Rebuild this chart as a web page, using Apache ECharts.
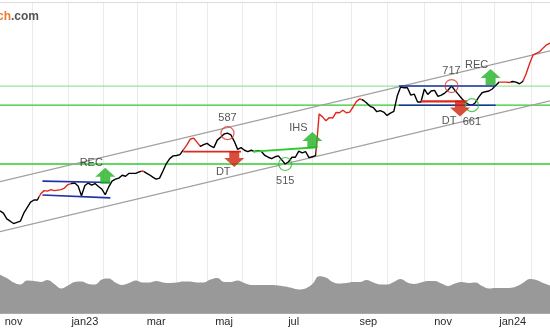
<!DOCTYPE html>
<html>
<head>
<meta charset="utf-8">
<script src="https://cdn.jsdelivr.net/npm/echarts@6.0.0/dist/echarts.min.js"></script>
<style>
  html, body { margin: 0; padding: 0; background: #fff; }
  #chart { width: 550px; height: 330px; }
</style>
</head>
<body>
<div id="chart"></div>
<script>
// ---- trading calendar (Stockholm exchange) ----
const calendarStart = '2022-11-01';
const firstShownDay = '2022-11-04';
const lastShownDay = '2024-02-16';
const holidays = ['2022-12-26', '2023-01-06', '2023-04-07', '2023-04-10', '2023-05-01', '2023-05-18',
  '2023-06-06', '2023-06-23', '2023-12-25', '2023-12-26', '2024-01-01'];

// ---- month tick labels (every second month) ----
const labelMonths = ['2022-11', '2023-01', '2023-03', '2023-05', '2023-07', '2023-09', '2023-11', '2024-01'];
const labelTexts = ['nov', 'jan23', 'mar', 'maj', 'jul', 'sep', 'nov', 'jan24'];

// ---- closing price, one value every second trading day from firstShownDay ----
const closes = [
  422, 418, 408, 404, 400, 402, 404, 418, 428, 438,
  442, 442, 454, 460, 459, 462, 460, 461, 462, 465,
  472, 474, 475, 469, 450, 470, 475, 471, 474, 468,
  463, 452, 467, 479, 483, 485, 491, 489, 495, 495,
  495, 498, 500, 496, 492, 487, 483, 485, 500, 516,
  527, 533, 534, 536, 547, 558, 572, 575, 565, 555,
  559, 562, 556, 552, 570, 577, 585, 587, 583, 567,
  548, 552, 546, 543, 546, 543, 545, 543, 534, 530,
  527, 531, 533, 524, 515, 520, 530, 530, 544, 540,
  543, 529, 531, 534, 637, 629, 619, 627, 626, 641,
  640, 647, 640, 642, 656, 672, 679, 675, 667, 658,
  654, 643, 646, 642, 633, 639, 644, 687, 714, 712,
  712, 690, 693, 670, 670, 708, 692, 702, 704, 686,
  690, 696, 705, 717, 704, 692, 680, 670, 663, 661,
  668, 684, 697, 700, 702, 708, 719, 729, 729, 729,
  728, 731, 729, 724, 731, 756, 789, 818, 824, 830,
  843, 854, 860
];

// periods where the price curve is drawn in red
const redPeriods = [
  ['2022-12-07', '2023-01-04'],
  ['2023-03-03', '2023-03-07'],
  ['2023-04-11', '2023-04-25'],
  ['2023-08-03', '2023-09-11'],
  ['2024-01-05', '2024-01-16'],
  ['2024-01-25', '2024-02-16']
];

// lower panel indicator, one value every fourth trading day
const indicator = [
  78, 71, 62, 58, 66, 65, 63, 67, 59, 50,
  56, 63, 64, 59, 58, 68, 70, 62, 57, 61,
  66, 62, 62, 65, 62, 61, 62, 64, 64, 62,
  62, 68, 71, 63, 63, 66, 61, 57, 57, 57,
  57, 56, 54, 51, 48, 50, 59, 75, 72, 63,
  60, 61, 63, 63, 67, 62, 58, 58, 63, 69,
  62, 59, 62, 65, 65, 60, 55, 60, 63, 61,
  62, 55, 50, 51, 51, 51, 54, 61, 69, 67,
  61, 56
];

// support / resistance levels
const levels = [717, 661, 515];

// trend channel
const channelUpper = [['2022-11-04', 477.7], ['2024-02-16', 832.3]];
const channelLower = [['2022-11-04', 386.4], ['2024-02-16', 673.2]];

// formations
const rect1Top = [['2022-12-09', 479], ['2023-02-07', 476]];
const rect1Bottom = [['2022-12-09', 451.5], ['2023-02-07', 446]];
const dt1Line = [['2023-04-11', 543], ['2023-05-31', 543]];
const ihsNeckline = [['2023-06-12', 543], ['2023-08-04', 553]];
const rect2Top = [['2023-10-11', 717], ['2024-01-03', 717]];
const rect2Bottom = [['2023-10-11', 661], ['2024-01-03', 661]];
const dt2Line = [['2023-10-30', 672], ['2023-12-06', 672]];

// marked tops and bottoms
const markedTops = [['2023-05-19', 587], ['2023-11-23', 717]];
const markedBottoms = [['2023-07-10', 515], ['2023-12-11', 661]];

// buy / sell signals: date, price, text
const buySignals = [['2023-02-02', 490, 'REC'], ['2023-08-01', 570, 'IHS'], ['2023-12-28', 745, 'REC']];
const sellSignals = [['2023-05-25', 526, 'DT'], ['2023-11-30', 652, 'DT']];

// ---- build the calendar ----
function buildCalendar() {
  const out = [];
  const d = new Date(calendarStart + 'T00:00:00Z');
  const end = new Date(lastShownDay + 'T00:00:00Z');
  while (d <= end) {
    const wd = d.getUTCDay();
    const s = d.toISOString().slice(0, 10);
    if (wd !== 0 && wd !== 6 && holidays.indexOf(s) < 0) out.push(s);
    d.setUTCDate(d.getUTCDate() + 1);
  }
  return out;
}
const allDays = buildCalendar();
const shift = allDays.indexOf(firstShownDay);
const days = allDays.slice(shift);
const dayIndex = s => days.indexOf(s);

// first trading day of each month, counted from the first shown day
const monthStart = {};
const monthKeys = [];
allDays.forEach((s, i) => {
  const m = s.slice(0, 7);
  if (!(m in monthStart)) { monthStart[m] = i - shift; monthKeys.push(m); }
});
const gridSet = new Set(monthKeys.map(m => monthStart[m]).filter(i => i > 0));
const labelAt = {};
labelMonths.forEach((m, n) => {
  const next = monthKeys[monthKeys.indexOf(m) + 1];
  labelAt[Math.floor((monthStart[m] + monthStart[next]) / 2)] = labelTexts[n];
});

const priceData = closes.map((v, k) => [days[2 * k], v]);
const indicatorData = indicator.map((v, k) => [days[4 * k], v]);

const GREEN = '#22b322';
const RED = '#d0200c';
const labelFont = { color: '#2a2a2a', fontSize: 11, fontFamily: 'Liberation Sans, Arial, sans-serif' };

const upArrow = 'path://M10,0 L20,9 L15,9 L15,16 L5,16 L5,9 L0,9 Z';
const downArrow = 'path://M5,0 L15,0 L15,7 L20,7 L10,16 L0,7 L5,7 Z';

function lineSeries(data, color, width, z) {
  return {
    type: 'line', xAxisIndex: 0, yAxisIndex: 0, data: data, symbol: 'none', silent: true,
    lineStyle: { color: color, width: width }, z: z, animation: false
  };
}

const levelColors = ['#9be39b', '#2ecb2e', '#2ecb2e'];
const series = [];
levels.forEach((lv, n) => {
  series.push(lineSeries([[days[0], lv], [days[days.length - 1], lv]], levelColors[n], 1.3, 1));
});
series.push(lineSeries(channelUpper, '#a0a0a0', 1.2, 2));
series.push(lineSeries(channelLower, '#a0a0a0', 1.2, 2));

const priceIndex = series.length;
series.push({
  type: 'line', xAxisIndex: 0, yAxisIndex: 0, data: priceData, symbol: 'none', silent: true,
  lineStyle: { width: 1.4 }, z: 3
});

series.push(lineSeries(rect1Top, '#2030a8', 1.6, 4));
series.push(lineSeries(rect1Bottom, '#2030a8', 1.6, 4));
series.push(lineSeries(rect2Top, '#2030a8', 1.6, 4));
series.push(lineSeries(rect2Bottom, '#2030a8', 1.6, 4));
series.push(lineSeries(dt1Line, '#dd2a20', 1.8, 4));
series.push(lineSeries(dt2Line, '#dd2a20', 2.2, 4));
series.push(lineSeries(ihsNeckline, '#2ecb2e', 1.8, 4));

// circles around tops and bottoms, with their values
series.push({
  type: 'scatter', xAxisIndex: 0, yAxisIndex: 0, silent: true, z: 5,
  data: markedTops, symbol: 'circle', symbolSize: 13,
  itemStyle: { color: 'rgba(0,0,0,0)', borderColor: '#e03a2a', borderWidth: 1.2 },
  label: { show: true, position: 'inside', offset: [0, -15], formatter: p => String(p.value[1]), ...labelFont }
});
series.push({
  type: 'scatter', xAxisIndex: 0, yAxisIndex: 0, silent: true, z: 5,
  data: markedBottoms, symbol: 'circle', symbolSize: 13,
  itemStyle: { color: 'rgba(0,0,0,0)', borderColor: '#33bb33', borderWidth: 1.2 },
  label: { show: true, position: 'inside', offset: [0, 16.5], formatter: p => String(p.value[1]), ...labelFont }
});

// signal arrows
series.push({
  type: 'scatter', xAxisIndex: 0, yAxisIndex: 0, silent: true, z: 6,
  data: buySignals.map(s => ({ value: [s[0], s[1]], name: s[2] })),
  symbol: upArrow, symbolSize: [20, 16],
  itemStyle: { color: GREEN },
  label: { show: true, position: 'inside', offset: [-14, -12.5], formatter: p => p.name, ...labelFont }
});
series.push({
  type: 'scatter', xAxisIndex: 0, yAxisIndex: 0, silent: true, z: 6,
  data: sellSignals.map(s => ({ value: [s[0], s[1]], name: s[2] })),
  symbol: downArrow, symbolSize: [20, 16],
  itemStyle: { color: RED },
  label: { show: true, position: 'inside', offset: [-11, 13], formatter: p => p.name, ...labelFont }
});

// lower panel
series.push({
  type: 'line', xAxisIndex: 1, yAxisIndex: 1, data: indicatorData, symbol: 'none', silent: true,
  smooth: 0.4, lineStyle: { width: 0 }, areaStyle: { color: '#999999', opacity: 1 }, z: 1
});

const xCommon = {
  type: 'category', data: days, boundaryGap: false,
  axisTick: { show: false },
  splitLine: { show: true, interval: (i) => gridSet.has(i), lineStyle: { color: '#ebebeb', width: 1 } }
};

const chart = echarts.init(document.getElementById('chart'), null, { renderer: 'canvas' });
chart.setOption({
  animation: false,
  backgroundColor: '#fff',
  title: {
    text: '{g|Invest}{o|tech}{g|.com}',
    left: 34, top: 6, textAlign: 'right',
    textStyle: {
      rich: {
        g: { color: '#555', fontSize: 12, fontWeight: 'bold', fontFamily: 'Liberation Sans, Arial, sans-serif' },
        o: { color: '#ec7a2e', fontSize: 12, fontWeight: 'bold', fontFamily: 'Liberation Sans, Arial, sans-serif' }
      }
    }
  },
  grid: [
    { left: 0, right: 0, top: 2, height: 252 },
    { left: 0, right: 0, top: 254, height: 59 }
  ],
  xAxis: [
    Object.assign({}, xCommon, {
      gridIndex: 0, position: 'top',
      axisLine: { show: true, lineStyle: { color: '#dddddd' } },
      axisLabel: { show: false }
    }),
    Object.assign({}, xCommon, {
      gridIndex: 1, position: 'bottom',
      axisLine: { show: true, lineStyle: { color: '#aaaaaa' } },
      axisLabel: {
        show: true, margin: 3,
        interval: (i) => (i in labelAt),
        formatter: (v, i) => labelAt[i] || '',
        ...labelFont
      }
    })
  ],
  yAxis: [
    { type: 'log', gridIndex: 0, min: 351.5, max: 1024.3, show: false, splitLine: { show: false } },
    { type: 'value', gridIndex: 1, min: 0, max: 120, show: false, splitLine: { show: false } }
  ],
  visualMap: {
    show: false, type: 'piecewise', seriesIndex: priceIndex, dimension: 0,
    pieces: redPeriods.map(p => ({ gte: dayIndex(p[0]), lte: dayIndex(p[1]), color: '#e3261c' })),
    outOfRange: { color: '#000000' }
  },
  series: series
});
</script>
</body>
</html>
